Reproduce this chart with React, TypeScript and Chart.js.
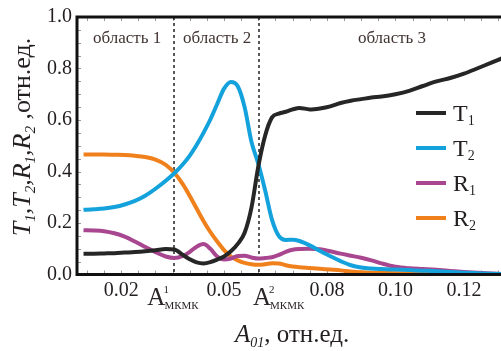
import React, { useEffect, useRef } from "react";
import { Chart, registerables } from "chart.js";
Chart.register(...registerables);

const xValues = [0.009, 0.012, 0.015, 0.018, 0.021, 0.024, 0.027, 0.030, 0.033, 0.0355, 0.038, 0.040, 0.042, 0.044, 0.046, 0.048, 0.050, 0.052, 0.054, 0.056, 0.058, 0.060, 0.062, 0.064, 0.066, 0.068, 0.070, 0.072, 0.075, 0.078, 0.081, 0.084, 0.087, 0.090, 0.093, 0.096, 0.100, 0.104, 0.108, 0.112, 0.116, 0.120, 0.124, 0.128, 0.131];
const T1 = [0.081, 0.081, 0.082, 0.083, 0.085, 0.087, 0.090, 0.094, 0.099, 0.097, 0.076, 0.059, 0.047, 0.043, 0.048, 0.058, 0.070, 0.090, 0.119, 0.162, 0.26, 0.42, 0.54, 0.61, 0.625, 0.632, 0.641, 0.647, 0.641, 0.645, 0.653, 0.666, 0.675, 0.681, 0.687, 0.691, 0.700, 0.713, 0.732, 0.750, 0.763, 0.780, 0.801, 0.823, 0.839];
const T2 = [0.251, 0.253, 0.256, 0.262, 0.272, 0.286, 0.306, 0.333, 0.364, 0.393, 0.428, 0.462, 0.503, 0.550, 0.602, 0.662, 0.722, 0.748, 0.731, 0.650, 0.515, 0.43, 0.326, 0.212, 0.149, 0.134, 0.135, 0.130, 0.113, 0.091, 0.071, 0.052, 0.036, 0.027, 0.023, 0.021, 0.019, 0.017, 0.015, 0.013, 0.010, 0.007, 0.005, 0.003, 0.002];
const R1 = [0.172, 0.171, 0.168, 0.160, 0.147, 0.128, 0.107, 0.087, 0.070, 0.064, 0.072, 0.088, 0.108, 0.118, 0.100, 0.070, 0.058, 0.062, 0.072, 0.073, 0.066, 0.062, 0.064, 0.067, 0.076, 0.088, 0.096, 0.099, 0.100, 0.098, 0.090, 0.081, 0.073, 0.065, 0.055, 0.043, 0.030, 0.024, 0.021, 0.018, 0.014, 0.010, 0.007, 0.004, 0.002];
const R2 = [0.466, 0.466, 0.466, 0.465, 0.464, 0.461, 0.456, 0.446, 0.426, 0.395, 0.350, 0.305, 0.256, 0.208, 0.165, 0.128, 0.095, 0.070, 0.055, 0.045, 0.040, 0.038, 0.040, 0.044, 0.043, 0.036, 0.031, 0.028, 0.025, 0.022, 0.019, 0.016, 0.012, 0.009, 0.007, 0.006, 0.005, 0.004, 0.003, 0.003, 0.002, 0.002, 0.001, 0.001, 0.001];

const seriesNames = [["T", "1"], ["T", "2"], ["R", "1"], ["R", "2"]];
const seriesColors = ["#262626", "#14a2dc", "#a8478f", "#f0801c"];
const xTicks = [0.02, 0.05, 0.08, 0.10, 0.12];
const boundaries = [0.0355, 0.0602];
const boundarySup = ["1", "2"];
const regionLabels = ["область 1", "область 2", "область 3"];
const regionCenters = [0.0217, 0.0480, 0.0990];

const SERIF = "'Liberation Serif', 'DejaVu Serif', serif";
const TEXT = "#231f20";

type Part = { t: string; font: string; dy?: number };
function richWidth(ctx: CanvasRenderingContext2D, parts: Part[]) {
  let w = 0;
  for (const p of parts) { ctx.font = p.font; w += ctx.measureText(p.t).width; }
  return w;
}
function drawRich(ctx: CanvasRenderingContext2D, x: number, y: number, parts: Part[]) {
  let cx = x;
  for (const p of parts) {
    ctx.font = p.font;
    ctx.fillText(p.t, cx, y + (p.dy || 0));
    cx += ctx.measureText(p.t).width;
  }
}

const decor = {
  id: "decor",
  beforeDatasetsDraw(chart: any) {
    const { ctx, chartArea, scales } = chart;
    const { left, top, right, bottom } = chartArea;
    const x = scales.x, y = scales.y;
    ctx.save();
    ctx.strokeStyle = "#9a9a9a";
    ctx.lineWidth = 1;
    ctx.beginPath();
    for (let v = 0.01; v < 0.1305; v += 0.005) {
      const px = Math.round(x.getPixelForValue(v)) + 0.5;
      ctx.moveTo(px, top); ctx.lineTo(px, top + 4);
      ctx.moveTo(px, bottom); ctx.lineTo(px, bottom - 4);
    }
    for (let v = 0.05; v < 1; v += 0.05) {
      const py = Math.round(y.getPixelForValue(v)) + 0.5;
      ctx.moveTo(left, py); ctx.lineTo(left + 4, py);
    }
    ctx.stroke();
    ctx.strokeStyle = "#222";
    ctx.lineWidth = 1.5;
    ctx.setLineDash([3, 3]);
    for (const b of boundaries) {
      const px = Math.round(x.getPixelForValue(b));
      ctx.beginPath();
      ctx.moveTo(px, top); ctx.lineTo(px, bottom);
      ctx.stroke();
    }
    ctx.restore();
  },
  afterDatasetsDraw(chart: any) {
    const { ctx, chartArea, scales } = chart;
    const { left, top, right, bottom } = chartArea;
    const x = scales.x;
    ctx.save();
    // frame
    ctx.strokeStyle = "#111";
    ctx.lineWidth = 3;
    ctx.beginPath();
    ctx.moveTo(right + 2, top); ctx.lineTo(left, top); ctx.lineTo(left, bottom); ctx.lineTo(right + 2, bottom);
    ctx.stroke();
    // region labels
    ctx.fillStyle = "#403432";
    ctx.font = "17px " + SERIF;
    ctx.textAlign = "center";
    ctx.textBaseline = "alphabetic";
    regionLabels.forEach((t, i) => ctx.fillText(t, x.getPixelForValue(regionCenters[i]), top + 26));
    ctx.textAlign = "left";
    // legend
    const lx = right - 85;
    seriesNames.forEach((n, i) => {
      const ly = top + 96 + i * 35;
      ctx.strokeStyle = seriesColors[i];
      ctx.lineWidth = 4;
      ctx.beginPath(); ctx.moveTo(lx, ly); ctx.lineTo(lx + 30, ly); ctx.stroke();
      ctx.fillStyle = TEXT;
      drawRich(ctx, lx + 37, ly + 8, [
        { t: n[0], font: "24px " + SERIF },
        { t: n[1], font: "14px " + SERIF, dy: 4 },
      ]);
    });
    // A_MKMK labels
    const offs = [-27, -6];
    boundaries.forEach((b, i) => {
      const px = x.getPixelForValue(b) + offs[i];
      const base = bottom + 30;
      ctx.fillStyle = "#2b2527";
      ctx.font = "25px " + SERIF;
      ctx.fillText("A", px, base);
      const aw = ctx.measureText("A").width;
      ctx.font = "11px " + SERIF;
      ctx.fillText(boundarySup[i], px + aw - 2, base - 12);
      ctx.fillText("МКМК", px + aw - 1, base + 4);
    });
    // x title
    ctx.fillStyle = TEXT;
    const xParts: Part[] = [
      { t: "A", font: "italic 25px " + SERIF },
      { t: "01", font: "italic 14px " + SERIF, dy: 5 },
      { t: ", отн.ед.", font: "25px " + SERIF },
    ];
    drawRich(ctx, 235, bottom + 67, xParts);
    // y title
    const it = "italic 26px " + SERIF;
    const sub = "italic 15px " + SERIF;
    const yParts: Part[] = [
      { t: "T", font: it }, { t: "1", font: sub, dy: 5 }, { t: ",", font: it },
      { t: "T", font: it }, { t: "2", font: sub, dy: 5 }, { t: ",", font: it },
      { t: "R", font: it }, { t: "1", font: sub, dy: 5 }, { t: ",", font: it },
      { t: "R", font: it }, { t: "2", font: sub, dy: 5 }, { t: " ,", font: "26px " + SERIF },
      { t: "отн.ед.", font: "26px " + SERIF },
    ];
    const w = richWidth(ctx, yParts);
    ctx.translate(30, 137);
    ctx.rotate(-Math.PI / 2);
    drawRich(ctx, -w / 2, 0, yParts);
    ctx.restore();
  },
};

export default function App() {
  const ref = useRef<HTMLCanvasElement | null>(null);
  useEffect(() => {
    if (!ref.current) return;
    const mk = (arr: number[]) => xValues.map((v, i) => ({ x: v, y: arr[i] }));
    const all = [T1, T2, R1, R2];
    const chart = new Chart(ref.current, {
      type: "line",
      data: {
        datasets: all.map((arr, i) => ({
          label: seriesNames[i].join(""),
          data: mk(arr),
          borderColor: seriesColors[i],
          borderWidth: 4,
          pointRadius: 0,
          cubicInterpolationMode: "monotone" as const,
          fill: false,
        })),
      },
      options: {
        animation: false,
        responsive: false,
        devicePixelRatio: 1,
        layout: { padding: { top: 10, left: 0, right: 0, bottom: 0 } },
        plugins: { legend: { display: false }, tooltip: { enabled: false } },
        scales: {
          x: {
            type: "linear",
            min: 0.0071,
            max: 0.1308,
            grid: { display: false, drawTicks: false },
            border: { display: false },
            afterBuildTicks: (s: any) => { s.ticks = xTicks.map((v) => ({ value: v })); },
            afterFit: (s: any) => { s.height = 76.5; },
            ticks: {
              autoSkip: false,
              maxRotation: 0,
              padding: 4,
              color: TEXT,
              font: { family: SERIF, size: 20 },
              callback: (v: any) => Number(v).toFixed(2),
            },
          },
          y: {
            min: 0,
            max: 1,
            grid: { display: false, drawTicks: false },
            border: { display: false },
            afterFit: (s: any) => { s.width = 77; },
            ticks: {
              stepSize: 0.2,
              padding: 5,
              color: TEXT,
              font: { family: SERIF, size: 20 },
              callback: (v: any) => Number(v).toFixed(1),
            },
          },
        },
      },
      plugins: [decor],
    });
    return () => chart.destroy();
  }, []);
  return (
    <div style={{ position: "fixed", left: 0, top: 0, width: 501, height: 351, background: "#fff" }}>
      <canvas ref={ref} width={501} height={351} style={{ width: 501, height: 351 }} />
    </div>
  );
}
